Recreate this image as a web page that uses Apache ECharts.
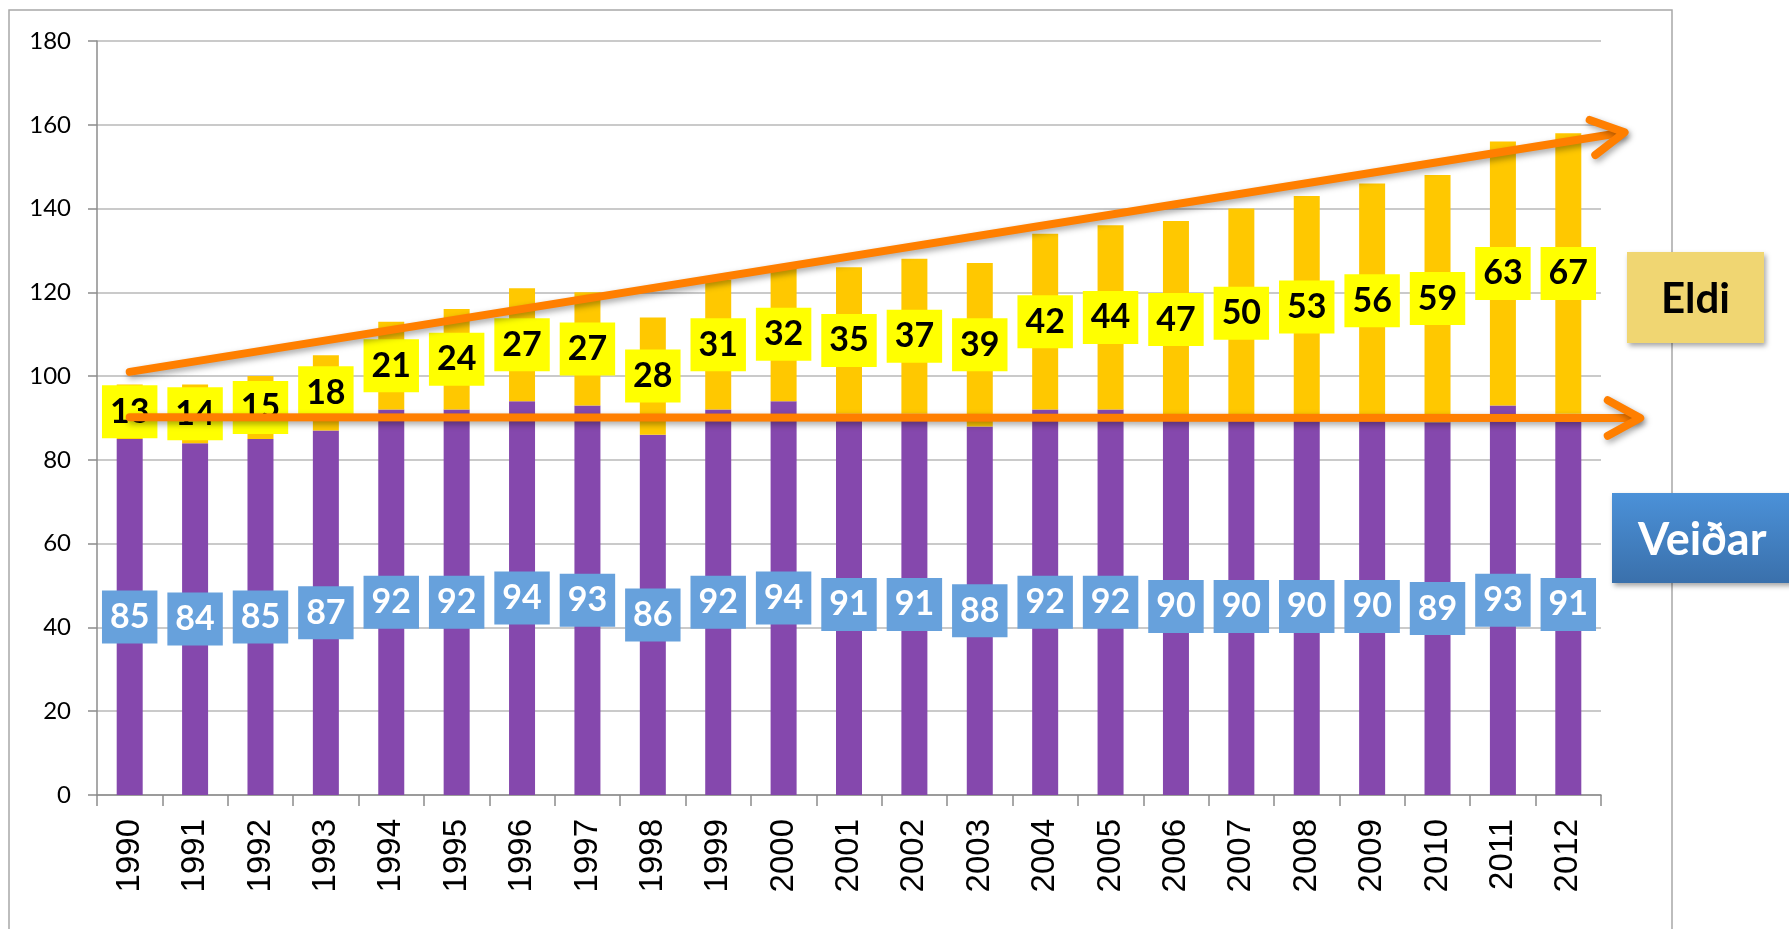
<!DOCTYPE html>
<html>
<head>
<meta charset="utf-8">
<script src="https://cdn.jsdelivr.net/npm/echarts@6/dist/echarts.min.js"></script>
<style>
html,body{margin:0;padding:0;background:#fff;}
#chart{width:1789px;height:929px;}
</style>
</head>
<body>
<div id="chart"></div>
<script>
const years = ['1990','1991','1992','1993','1994','1995','1996','1997','1998','1999','2000','2001','2002','2003','2004','2005','2006','2007','2008','2009','2010','2011','2012'];
const veidar = [85,84,85,87,92,92,94,93,86,92,94,91,91,88,92,92,90,90,90,90,89,93,91];
const eldi = [13,14,15,18,21,24,27,27,28,31,32,35,37,39,42,44,47,50,53,56,59,63,67];
const yTicks = {min:0, max:180, interval:20};
// annotation arrows in data units: [category index, value]
const upperArrow = {from:[0,101], to:[22.86,158.2]};
const lowerArrow = {from:[0,90.2], to:[23.1,90]};

const chart = echarts.init(document.getElementById('chart'));
const labelFont = 'Lato, "Noto Sans", sans-serif';
chart.setOption({
  animation:false,
  grid:{left:97, right:188, top:41, bottom:134},
  xAxis:{
    type:'category', data:years,
    axisLine:{lineStyle:{color:'#8c8c8c', width:1.5}},
    axisTick:{show:true, length:11, lineStyle:{color:'#8c8c8c', width:1.5}},
    axisLabel:{rotate:90, margin:24, color:'#000', fontSize:33, fontFamily:'"Liberation Sans", Arial, sans-serif'}
  },
  yAxis:{
    type:'value', min:yTicks.min, max:yTicks.max, interval:yTicks.interval,
    axisLine:{show:true, lineStyle:{color:'#8c8c8c', width:1.5}},
    axisTick:{show:true, length:9, lineStyle:{color:'#8c8c8c', width:1.5}},
    splitLine:{lineStyle:{color:'#b8b8b8', width:1.5}},
    axisLabel:{margin:26, color:'#000', fontSize:24, fontFamily:labelFont}
  },
  series:[
    {
      name:'Veiðar', type:'bar', stack:'a', data:veidar, barWidth:26,
      itemStyle:{color:'#8548ad'},
      label:{show:true, position:'inside', color:'#fff', fontWeight:'bold', fontSize:34, fontFamily:labelFont,
        backgroundColor:'#67a1dc', padding:[12,8,9,8], lineHeight:32}
    },
    {
      name:'Eldi', type:'bar', stack:'a', data:eldi, barWidth:26,
      itemStyle:{color:'#ffc800'},
      label:{show:true, position:'inside', color:'#000', fontWeight:'bold', fontSize:34, fontFamily:labelFont,
        backgroundColor:'#ffff00', padding:[12,8,9,8], lineHeight:32}
    }
  ]
});

function px(pt){
  const a = chart.convertToPixel({gridIndex:0},[0,pt[1]]);
  const b = chart.convertToPixel({gridIndex:0},[1,pt[1]]);
  return [a[0] + (b[0]-a[0])*pt[0], a[1]];
}
function arrowGraphics(arr){
  const p0 = px(arr.from), p1 = px(arr.to);
  const ang = Math.atan2(p1[1]-p0[1], p1[0]-p0[0]);
  const L = 37, spread = 0.5;
  const h1 = [p1[0]-L*Math.cos(ang-spread), p1[1]-L*Math.sin(ang-spread)];
  const h2 = [p1[0]-L*Math.cos(ang+spread), p1[1]-L*Math.sin(ang+spread)];
  const style = {stroke:'#ff7f00', lineWidth:8, lineCap:'round', lineJoin:'round', fill:null,
    shadowColor:'rgba(0,0,0,0.35)', shadowBlur:6, shadowOffsetX:2, shadowOffsetY:3};
  return [
    {type:'polyline', z:100, shape:{points:[p0,[p1[0]-3*Math.cos(ang),p1[1]-3*Math.sin(ang)]]}, style:style},
    {type:'polyline', z:100, shape:{points:[h1,p1,h2]}, style:style}
  ];
}

chart.setOption({
  graphic:[
    {type:'rect', z:-10, silent:true, shape:{x:9, y:10, width:1663, height:940}, style:{fill:null, stroke:'#a8a8a8', lineWidth:1.5}},
    ...arrowGraphics(upperArrow),
    ...arrowGraphics(lowerArrow),
    {type:'group', z:100, children:[
      {type:'rect', shape:{x:1627, y:252, width:137, height:91},
        style:{fill:'#f0d672', shadowColor:'rgba(0,0,0,0.35)', shadowBlur:5, shadowOffsetX:2, shadowOffsetY:3}},
      {type:'text', style:{x:1695.5, y:299, text:'Eldi', align:'center', verticalAlign:'middle', fill:'#000',
        font:'bold 42px Lato, "Noto Sans", sans-serif'}}
    ]},
    {type:'group', z:100, children:[
      {type:'rect', shape:{x:1612, y:493, width:190, height:90},
        style:{fill:new echarts.graphic.LinearGradient(0,0,0,1,[{offset:0,color:'#4b91d8'},{offset:1,color:'#3a70ab'}]),
          shadowColor:'rgba(0,0,0,0.35)', shadowBlur:5, shadowOffsetX:2, shadowOffsetY:3}},
      {type:'text', style:{x:1638, y:540, text:'Veiðar', align:'left', verticalAlign:'middle', fill:'#fff',
        font:'bold 45px Lato, "Noto Sans", sans-serif'}}
    ]}
  ]
});
</script>
</body>
</html>
